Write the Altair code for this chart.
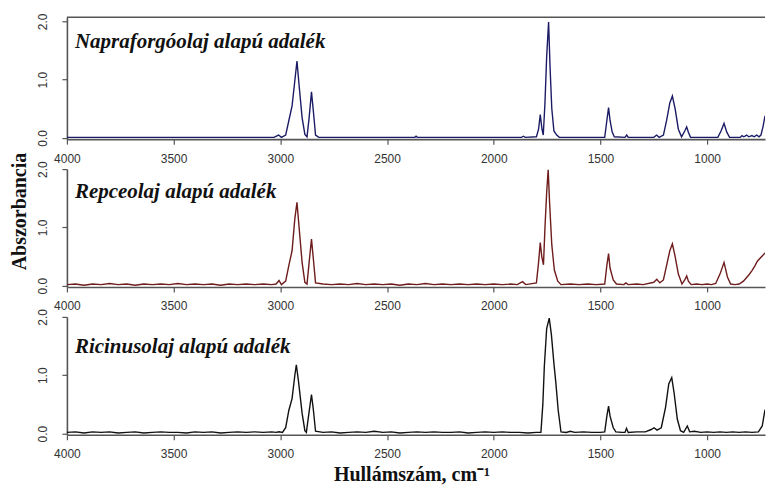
import altair as alt
import pandas as pd

# ---------------- data ----------------
titles = ["Napraforgóolaj alapú adalék", "Repceolaj alapú adalék", "Ricinusolaj alapú adalék"]
colors = ["#1c1c66", "#6e1c1c", "#111111"]

x_ticks = [4000, 3500, 3000, 2500, 2000, 1500, 1000]
y_ticks = [0.0, 1.0, 2.0]

wn_napra = [4000, 3500, 3030, 3008, 2995, 2975, 2960, 2945, 2930, 2922, 2912, 2898, 2885, 2875,
            2865, 2854, 2845, 2835, 2820, 2370, 2364, 2358, 1870, 1861, 1852, 1800, 1790, 1782,
            1774, 1768, 1760, 1752, 1743, 1736, 1728, 1718, 1705, 1693, 1480, 1470, 1462, 1455,
            1445, 1435, 1385, 1377, 1370, 1250, 1237, 1225, 1205, 1190, 1175, 1163, 1150, 1135,
            1120, 1105, 1096, 1088, 1078, 950, 935, 921, 908, 895, 845, 837, 828, 815, 805, 790,
            780, 768, 757, 748, 738, 729]
ab_napra = [0.01, 0.01, 0.01, 0.05, 0.01, 0.05, 0.30, 0.55, 1.05, 1.32, 0.90, 0.35, 0.06, 0.02,
            0.35, 0.79, 0.45, 0.05, 0.01, 0.01, 0.03, 0.01, 0.01, 0.03, 0.01, 0.02, 0.15, 0.40,
            0.15, 0.05, 0.60, 1.40, 1.99, 1.20, 0.50, 0.12, 0.05, 0.01, 0.01, 0.30, 0.52, 0.30,
            0.10, 0.02, 0.01, 0.05, 0.01, 0.01, 0.05, 0.01, 0.05, 0.30, 0.60, 0.72, 0.50, 0.15,
            0.02, 0.12, 0.19, 0.10, 0.01, 0.01, 0.12, 0.25, 0.10, 0.01, 0.01, 0.04, 0.02, 0.05,
            0.02, 0.04, 0.02, 0.05, 0.02, 0.05, 0.20, 0.38]

wn_repce = [4000, 3960, 3920, 3880, 3840, 3800, 3760, 3720, 3680, 3640, 3600, 3560, 3520, 3480,
            3440, 3400, 3360, 3320, 3280, 3240, 3200, 3160, 3120, 3080, 3040, 3020, 3006, 2995,
            2975, 2960, 2945, 2932, 2922, 2912, 2898, 2885, 2875, 2865, 2854, 2845, 2835, 2800,
            2760, 2720, 2680, 2640, 2600, 2560, 2520, 2480, 2440, 2400, 2360, 2320, 2280, 2240,
            2200, 2160, 2120, 2080, 2040, 2000, 1960, 1920, 1890, 1865, 1850, 1800, 1790, 1782,
            1775, 1767, 1760, 1752, 1745, 1738, 1728, 1716, 1700, 1685, 1640, 1600, 1560, 1520,
            1480, 1470, 1462, 1455, 1440, 1425, 1390, 1381, 1370, 1330, 1300, 1250, 1236, 1222,
            1205, 1190, 1175, 1163, 1150, 1135, 1118, 1105, 1096, 1088, 1075, 1050, 1025, 1000,
            980, 960, 940, 921, 905, 890, 870, 850, 830, 804, 790, 775, 765, 750, 729]
ab_repce = [0.02, 0.03, 0.01, 0.03, 0.02, 0.04, 0.02, 0.03, 0.01, 0.03, 0.02, 0.03, 0.02, 0.04,
            0.02, 0.03, 0.02, 0.03, 0.01, 0.03, 0.02, 0.03, 0.02, 0.03, 0.02, 0.03, 0.09, 0.02,
            0.08, 0.35, 0.60, 1.15, 1.43, 1.00, 0.40, 0.06, 0.03, 0.40, 0.80, 0.45, 0.05, 0.03,
            0.02, 0.03, 0.02, 0.04, 0.02, 0.03, 0.02, 0.03, 0.01, 0.03, 0.02, 0.04, 0.02, 0.03,
            0.02, 0.03, 0.02, 0.03, 0.02, 0.03, 0.02, 0.03, 0.02, 0.07, 0.02, 0.05, 0.40, 0.74,
            0.50, 0.36, 1.00, 1.60, 1.99, 1.40, 0.70, 0.27, 0.08, 0.02, 0.03, 0.02, 0.03, 0.02,
            0.03, 0.35, 0.55, 0.30, 0.10, 0.03, 0.02, 0.05, 0.02, 0.03, 0.02, 0.06, 0.11, 0.05,
            0.10, 0.35, 0.60, 0.72, 0.50, 0.20, 0.03, 0.10, 0.17, 0.08, 0.02, 0.03, 0.02, 0.03,
            0.02, 0.04, 0.20, 0.40, 0.15, 0.03, 0.02, 0.03, 0.08, 0.19, 0.26, 0.35, 0.42, 0.48, 0.56]

wn_ricin = [4000, 3960, 3920, 3880, 3840, 3800, 3760, 3720, 3680, 3640, 3600, 3560, 3520, 3480,
            3440, 3400, 3360, 3320, 3280, 3240, 3200, 3160, 3120, 3080, 3040, 3020, 3006, 2990,
            2975, 2960, 2945, 2932, 2925, 2915, 2898, 2885, 2878, 2866, 2854, 2845, 2835, 2800,
            2760, 2720, 2680, 2640, 2600, 2560, 2520, 2480, 2440, 2400, 2360, 2320, 2280, 2240,
            2200, 2160, 2120, 2080, 2040, 2000, 1960, 1920, 1880, 1840, 1800, 1779, 1770, 1763,
            1752, 1740, 1730, 1718, 1709, 1698, 1685, 1660, 1642, 1620, 1580, 1540, 1500, 1480,
            1470, 1462, 1455, 1440, 1428, 1400, 1385, 1378, 1370, 1330, 1290, 1262, 1249, 1235,
            1215, 1195, 1180, 1166, 1155, 1140, 1125, 1110, 1093, 1082, 1060, 1030, 1000, 970,
            940, 910, 880, 850, 820, 790, 760, 742, 729]
ab_ricin = [0.02, 0.03, 0.01, 0.03, 0.02, 0.03, 0.01, 0.02, 0.03, 0.01, 0.02, 0.03, 0.02, 0.02,
            0.01, 0.03, 0.02, 0.03, 0.01, 0.02, 0.03, 0.02, 0.03, 0.02, 0.03, 0.02, 0.03, 0.02,
            0.10, 0.40, 0.60, 1.00, 1.18, 0.90, 0.35, 0.05, 0.02, 0.35, 0.67, 0.40, 0.04, 0.02,
            0.03, 0.01, 0.02, 0.03, 0.02, 0.04, 0.02, 0.03, 0.01, 0.02, 0.03, 0.02, 0.03, 0.02,
            0.02, 0.03, 0.01, 0.02, 0.03, 0.02, 0.03, 0.02, 0.02, 0.01, 0.02, 0.02, 0.50, 1.15,
            1.80, 1.98, 1.70, 1.20, 0.87, 0.40, 0.03, 0.02, 0.04, 0.02, 0.03, 0.02, 0.02, 0.03,
            0.30, 0.47, 0.30, 0.10, 0.03, 0.02, 0.02, 0.09, 0.02, 0.03, 0.03, 0.07, 0.10, 0.06,
            0.10, 0.45, 0.85, 0.96, 0.70, 0.25, 0.05, 0.02, 0.13, 0.03, 0.04, 0.02, 0.03, 0.02,
            0.03, 0.02, 0.03, 0.02, 0.03, 0.02, 0.03, 0.13, 0.41]

series = [(wn_napra, ab_napra), (wn_repce, ab_repce), (wn_ricin, ab_ricin)]

# ---------------- layout helpers ----------------
PLOT_W = 699
PX_PER_UNIT = 58.5
AXIS_COLOR = "#555555"
LABEL_COLOR = "#333333"
SERIF = "Liberation Serif"


def panel(i):
    wn, ab = series[i]
    df = pd.DataFrame({"wn": wn, "ab": ab})
    ymin = -0.02
    ymax = 2.07 if i == 0 else 2.0
    h = round((ymax - ymin) * PX_PER_UNIT)

    common_x = dict(values=x_ticks, format="d", labelFlush=False, grid=False,
                    domainColor=AXIS_COLOR, domainWidth=1.6, tickColor=AXIS_COLOR,
                    tickSize=5, tickWidth=1.2, labelColor=LABEL_COLOR, labelFontSize=12,
                    labelFont="Liberation Sans", labelPadding=9)
    if i == 2:
        x_axis = alt.Axis(**common_x, title="Hullámszám, cm⁻¹", titleFont=SERIF,
                          titleFontSize=20, titleFontWeight="bold", titleColor="#111111",
                          titleX=345, titleY=46, titleAlign="center",
                          titleBaseline="alphabetic")
    else:
        x_axis = alt.Axis(**common_x, title=None)

    common_y = dict(values=y_ticks, format=".1f", grid=False, labelAngle=-90,
                    labelAlign="center", labelBaseline="bottom", labelPadding=12,
                    labelColor=LABEL_COLOR, labelFontSize=12, labelFont="Liberation Sans",
                    domainColor=AXIS_COLOR, domainWidth=1.6, tickColor=AXIS_COLOR,
                    tickSize=5, tickWidth=1.2, labelFlush=False)
    if i == 1:
        y_axis = alt.Axis(**common_y, title="Abszorbancia", titleFont=SERIF, titleFontSize=20,
                          titleFontWeight="bold", titleColor="#111111", titleAngle=-90,
                          titleX=-47, titleY=42, titleAlign="center", titleBaseline="middle")
    else:
        y_axis = alt.Axis(**common_y, title=None)

    line = alt.Chart(df).mark_line(color=colors[i], strokeWidth=1.4, clip=True).encode(
        x=alt.X("wn:Q", scale=alt.Scale(domain=[729, 4000], reverse=True, nice=False, zero=False),
                axis=x_axis),
        y=alt.Y("ab:Q", scale=alt.Scale(domain=[ymin, ymax], nice=False, zero=False),
                axis=y_axis),
        order=alt.Order("idx:Q"),
    ).transform_window(idx="row_number()")

    title_y = [31, 29, 36][i]
    label = alt.Chart(pd.DataFrame({"t": [titles[i]]})).mark_text(
        align="left", baseline="alphabetic", font=SERIF, fontSize=21, fontWeight="bold",
        fontStyle="italic", color="#111111"
    ).encode(x=alt.value(8), y=alt.value(title_y), text="t:N")

    layers = [line, label]
    if i == 0:
        border = alt.Chart(pd.DataFrame({"v": [0]})).mark_rule(
            color=AXIS_COLOR, strokeWidth=1.6
        ).encode(x=alt.value(0), x2=alt.value(PLOT_W), y=alt.value(0))
        layers.append(border)

    return alt.layer(*layers).properties(width=PLOT_W, height=h)


chart = alt.vconcat(panel(0), panel(1), panel(2), spacing=30, bounds="flush").properties(
    padding={"left": 9, "right": 0, "top": 12, "bottom": 0},
    background="white",
).configure_view(stroke=None)

chart.save("out.html", embed_options={"renderer": "svg", "actions": False})
